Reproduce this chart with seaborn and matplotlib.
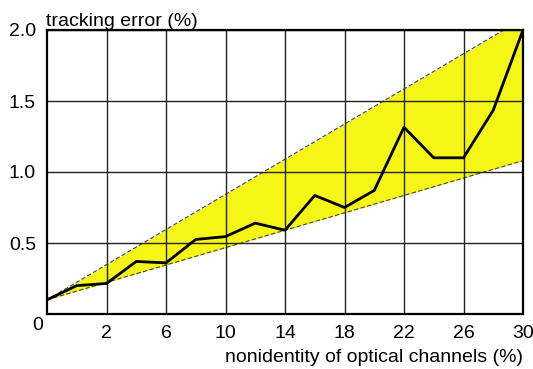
import matplotlib
matplotlib.use("Agg")
import matplotlib.pyplot as plt
import seaborn as sns
import numpy as np
import pandas as pd

# data
nonidentity = [-2, 0, 2, 4, 6, 8, 10, 12, 14, 16, 18, 20, 22, 24, 26, 28, 30]
tracking_error = [0.10, 0.20, 0.215, 0.37, 0.36, 0.525, 0.545, 0.64, 0.59,
                  0.835, 0.75, 0.87, 1.315, 1.10, 1.10, 1.435, 2.0]
band_x = [-2, 30]
band_upper = [0.10, 2.08]
band_lower = [0.10, 1.08]
x_ticks = [2, 6, 10, 14, 18, 22, 26, 30]
y_ticks = [0.5, 1.0, 1.5, 2.0]
y_tick_labels = ["0.5", "1.0", "1.5", "2.0"]

sns.set_theme(style="white")
plt.rcParams["font.family"] = ["Liberation Sans", "DejaVu Sans"]

FS = 14

fig = plt.figure(figsize=(5.33, 3.69), dpi=100)
ax = fig.add_axes([47/533, 55/369, 476/533, 284/369])

ax.fill_between(band_x, band_lower, band_upper, color="#F5F516", zorder=1, linewidth=0)
ax.plot(band_x, band_upper, color="#444444", lw=0.8, ls=(0, (4, 2)), zorder=2)
ax.plot(band_x, band_lower, color="#444444", lw=0.8, ls=(0, (4, 2)), zorder=2)

df = pd.DataFrame({"x": nonidentity, "y": tracking_error})
sns.lineplot(data=df, x="x", y="y", ax=ax, color="black", lw=2, zorder=4)

ax.set_xlim(-2, 30)
ax.set_ylim(0, 2.0)
ax.set_xticks(x_ticks)
ax.set_xticklabels([str(t) for t in x_ticks])
ax.set_yticks(y_ticks)
ax.set_yticklabels(y_tick_labels)
ax.tick_params(axis="both", length=0, labelsize=FS, colors="black")
ax.tick_params(axis="x", pad=8)
ax.tick_params(axis="y", pad=8)
ax.grid(True, color="#222222", lw=1.0, zorder=3)
ax.set_axisbelow(False)
for s in ax.spines.values():
    s.set_color("black")
    s.set_linewidth(1.6)
    s.set_zorder(5)
ax.set_xlabel("")
ax.set_ylabel("")

ax.text(-0.003, 1.0, "tracking error (%)", transform=ax.transAxes, ha="left", va="bottom",
        fontsize=FS, color="black")
fig.text(523/533, 1 - 357/369, "nonidentity of optical channels (%)", ha="right",
         va="center", fontsize=FS, color="black")
fig.text(38/533, 1 - 325/369, "0", ha="center", va="center", fontsize=FS, color="black")

fig.savefig("out.png", dpi=100)
